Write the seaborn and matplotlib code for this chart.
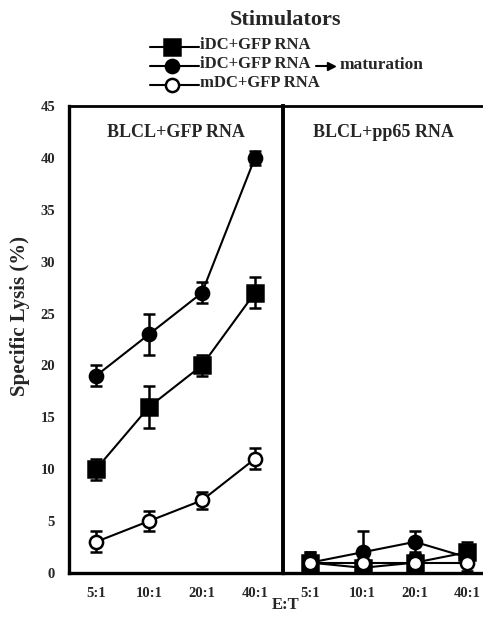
import matplotlib
matplotlib.use("Agg")
import matplotlib.pyplot as plt
import seaborn as sns
import pandas as pd
import numpy as np
from matplotlib.lines import Line2D

sns.set_theme(style="white")
plt.rcParams['font.family'] = ['Liberation Serif', 'DejaVu Serif']
plt.rcParams['font.weight'] = 'bold'

ratios = ["5:1", "10:1", "20:1", "40:1"]
series = ["iDC+GFP RNA", "iDC+GFP RNA maturation", "mDC+GFP RNA"]

gfp_idc = [10, 16, 20, 27]
gfp_idc_err = [1, 2, 1, 1.5]
gfp_mat = [19, 23, 27, 40]
gfp_mat_err = [1, 2, 1, 0.7]
gfp_mdc = [3, 5, 7, 11]
gfp_mdc_err = [1, 1, 0.8, 1]

pp_idc = [1, 0.5, 1, 2]
pp_idc_err = [0.8, 0.8, 0.8, 1]
pp_mat = [1, 2, 3, 1.5]
pp_mat_err = [1, 2, 1, 0.8]
pp_mdc = [1, 1, 1, 1]
pp_mdc_err = [1, 0.8, 0.8, 0.8]

yticks = [0, 5, 10, 15, 20, 25, 30, 35, 40, 45]

styles = {
    series[0]: dict(marker='s', mfc='black', ms=11),
    series[1]: dict(marker='o', mfc='black', ms=9.5),
    series[2]: dict(marker='o', mfc='white', ms=9.5),
}

fig = plt.figure(figsize=(4.83, 6.2), dpi=100)
ax1 = fig.add_axes([69/483, 1-573/620, 214/483, 467/620])
ax2 = fig.add_axes([283/483, 1-573/620, 200/483, 467/620])

def draw(ax, vals, errs, title):
    x = np.arange(len(ratios))
    for s, v, e in zip(series, vals, errs):
        df = pd.DataFrame({"x": x, "y": v})
        st = styles[s]
        sns.lineplot(data=df, x="x", y="y", ax=ax, color='black', lw=1.5,
                     marker=st['marker'], markersize=st['ms'],
                     markerfacecolor=st['mfc'], markeredgecolor='black',
                     markeredgewidth=1.8, zorder=3)
        ax.errorbar(x, v, yerr=e, fmt='none', ecolor='black', elinewidth=1.8,
                    capsize=4, capthick=1.8, zorder=2)
    ax.set_ylim(0, 45)
    ax.set_xticks(x)
    ax.set_xticklabels(ratios, fontsize=10.5, fontweight='bold')
    ax.set_xlabel("")
    ax.set_ylabel("")
    ax.tick_params(length=0, pad=10)
    ax.text(0.5, 0.962, title, transform=ax.transAxes, ha='center', va='top',
            fontsize=13, fontweight='bold')
    for sp in ax.spines.values():
        sp.set_linewidth(2.4)
        sp.set_color('black')
    ax.spines['top'].set_linewidth(2)

draw(ax1, [gfp_idc, gfp_mat, gfp_mdc], [gfp_idc_err, gfp_mat_err, gfp_mdc_err], "BLCL+GFP RNA")
draw(ax2, [pp_idc, pp_mat, pp_mdc], [pp_idc_err, pp_mat_err, pp_mdc_err], "BLCL+pp65 RNA")

ax1.set_xlim(-0.51, 3.53)
ax2.set_xlim(-0.52, 3.3)
ax1.set_yticks(yticks)
ax1.set_yticklabels([str(t) for t in yticks], fontsize=10.5, fontweight='bold')
ax1.tick_params(axis='y', pad=10)
ax1.spines['right'].set_visible(False)
ax2.set_yticks([])
ax2.spines['right'].set_visible(False)
ax2.spines['left'].set_linewidth(2.8)

ax1.set_ylabel("Specific Lysis (%)", fontsize=15, fontweight='bold')
ax1.yaxis.set_label_coords(-0.18, 0.55)
fig.text(286/483, 1-605/620, "E:T", ha='center', va='center', fontsize=12, fontweight='bold')

# legend
fig.text(286/483, 1-20/620, "Stimulators", ha='center', va='center', fontsize=16, fontweight='bold')
leg_y = [47, 66, 85]
for s, yy in zip(series, leg_y):
    st = styles[s]
    yf = 1 - yy/620
    fig.add_artist(Line2D([150/483, 199/483], [yf, yf], color='black', lw=1.5,
                          transform=fig.transFigure))
    fig.add_artist(Line2D([172/483], [yf], color='black', marker=st['marker'],
                          markersize=st['ms'], markerfacecolor=st['mfc'],
                          markeredgecolor='black', markeredgewidth=1.8,
                          transform=fig.transFigure))
labels = ["iDC+GFP RNA", "iDC+GFP RNA", "mDC+GFP RNA"]
for lab, yy in zip(labels, leg_y):
    fig.text(200/483, 1 - (yy - 2)/620, lab, ha='left', va='center', fontsize=12, fontweight='bold')
fig.add_artist(Line2D([316/483, 330/483], [1-66/620, 1-66/620], color='black', lw=1.5,
                      transform=fig.transFigure))
fig.add_artist(Line2D([331/483], [1-66/620], color='black', marker='>', markersize=6,
                      transform=fig.transFigure))
fig.text(340/483, 1-65/620, "maturation", ha='left', va='center', fontsize=12.5, fontweight='bold')

fig.savefig("out.png", dpi=100)
